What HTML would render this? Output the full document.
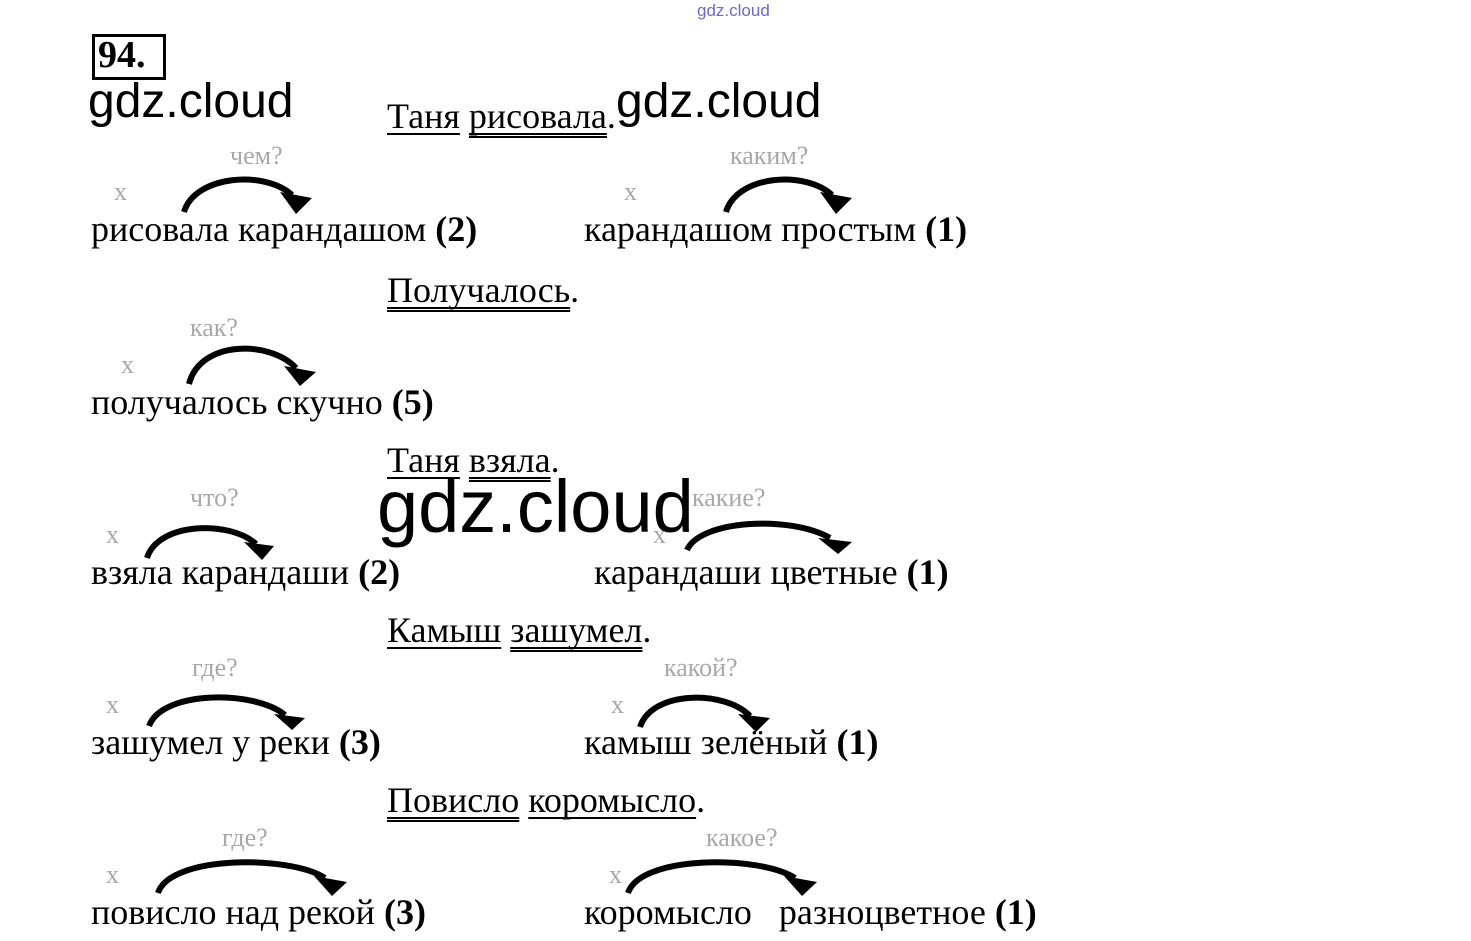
<!DOCTYPE html>
<html><head><meta charset="utf-8"><style>
html,body{margin:0;padding:0;background:#fff;}
body{width:1471px;height:941px;position:relative;overflow:hidden;font-family:"Liberation Serif",serif;color:#000;}
.t{position:absolute;font-size:36px;line-height:36px;white-space:nowrap;}
.q{position:absolute;font-size:26px;line-height:28px;color:#a8a8a8;white-space:nowrap;}
.x{position:absolute;font-size:26px;line-height:28px;color:#a8a8a8;}
.g{position:absolute;font-family:"Liberation Sans",sans-serif;white-space:nowrap;line-height:1;}
.s{text-decoration:underline;text-underline-offset:5px;text-decoration-thickness:2px;text-decoration-skip-ink:none;}
.d{text-decoration:underline double;text-underline-offset:5px;text-decoration-thickness:2px;text-decoration-skip-ink:none;}
b{font-weight:bold;}
</style></head><body>
<div class="g" style="left:697px;top:2px;font-size:17px;color:#6a6acc;">gdz.cloud</div>
<div style="position:absolute;left:92px;top:34px;width:68px;height:40px;border:3px solid #000;"></div>
<div class="t" style="left:98px;top:37px;font-size:38px;font-weight:bold;">94.</div>
<div class="g" style="left:88px;top:78px;font-size:48px;">gdz.cloud</div>
<div class="g" style="left:616px;top:78px;font-size:48px;">gdz.cloud</div>
<div class="g" style="left:377px;top:470px;font-size:74px;">gdz.cloud</div>

<div class="t" style="left:387px;top:98px;"><span class="s">Таня</span> <span class="d">рисовала</span>.</div>
<div class="q" style="left:230px;top:142px;">чем?</div>
<div class="x" style="left:114px;top:178px;">x</div>
<div class="t" style="left:91px;top:211px;">рисовала карандашом <b>(2)</b></div>
<div class="q" style="left:730px;top:142px;">каким?</div>
<div class="x" style="left:624px;top:178px;">x</div>
<div class="t" style="left:584px;top:211px;">карандашом простым <b>(1)</b></div>

<div class="t" style="left:387px;top:272px;"><span class="d">Получалось</span>.</div>
<div class="q" style="left:190px;top:314px;">как?</div>
<div class="x" style="left:121px;top:351px;">x</div>
<div class="t" style="left:91px;top:384px;">получалось скучно <b>(5)</b></div>

<div class="t" style="left:387px;top:442px;"><span class="s">Таня</span> <span class="d">взяла</span>.</div>
<div class="q" style="left:190px;top:484px;">что?</div>
<div class="x" style="left:106px;top:521px;">x</div>
<div class="t" style="left:91px;top:554px;">взяла карандаши <b>(2)</b></div>
<div class="q" style="left:692px;top:484px;">какие?</div>
<div class="x" style="left:653px;top:521px;">x</div>
<div class="t" style="left:594px;top:554px;">карандаши цветные <b>(1)</b></div>

<div class="t" style="left:387px;top:612px;"><span class="s">Камыш</span> <span class="d">зашумел</span>.</div>
<div class="q" style="left:192px;top:654px;">где?</div>
<div class="x" style="left:106px;top:691px;">x</div>
<div class="t" style="left:91px;top:724px;">зашумел у реки <b>(3)</b></div>
<div class="q" style="left:664px;top:654px;">какой?</div>
<div class="x" style="left:611px;top:691px;">x</div>
<div class="t" style="left:584px;top:724px;">камыш зелёный <b>(1)</b></div>

<div class="t" style="left:387px;top:782px;"><span class="d">Повисло</span> <span class="s">коромысло</span>.</div>
<div class="q" style="left:222px;top:824px;">где?</div>
<div class="x" style="left:106px;top:861px;">x</div>
<div class="t" style="left:91px;top:894px;">повисло над рекой <b>(3)</b></div>
<div class="q" style="left:706px;top:824px;">какое?</div>
<div class="x" style="left:609px;top:861px;">x</div>
<div class="t" style="left:584px;top:894px;">коромысло &nbsp; разноцветное <b>(1)</b></div>

<svg width="1471" height="941" style="position:absolute;left:0;top:0;" fill="none" stroke="#000" stroke-width="6">
<g>
<path d="M184 212 C195 175 265 170 292 195"/><polygon fill="#000" stroke="none" points="280,192 312,198 296,214"/>
<path d="M726 212 C737 175 805 170 832 195"/><polygon fill="#000" stroke="none" points="820,192 852,198 836,214"/>
<path d="M189 384 C200 340 270 340 296 368"/><polygon fill="#000" stroke="none" points="284,366 316,372 300,386"/>
<path d="M147 558 C158 522 230 520 256 544"/><polygon fill="#000" stroke="none" points="244,542 274,546 262,560"/>
<path d="M687 550 C700 520 790 515 830 538"/><polygon fill="#000" stroke="none" points="818,538 852,542 838,554"/>
<path d="M149 726 C162 690 255 690 285 715"/><polygon fill="#000" stroke="none" points="274,714 305,718 292,730"/>
<path d="M640 727 C652 690 725 690 750 716"/><polygon fill="#000" stroke="none" points="738,714 770,718 756,732"/>
<path d="M158 893 C170 855 290 855 325 878"/><polygon fill="#000" stroke="none" points="314,876 347,882 332,896"/>
<path d="M628 893 C640 855 760 855 795 878"/><polygon fill="#000" stroke="none" points="784,876 817,882 802,896"/>
</g>
</svg>
</body></html>
